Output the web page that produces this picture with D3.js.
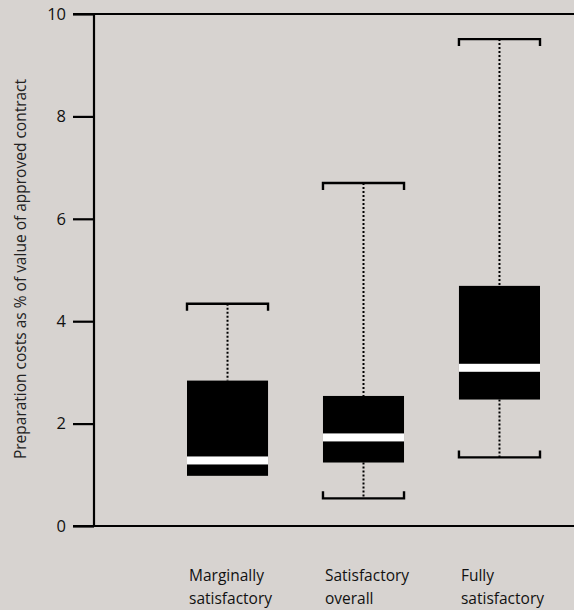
<!DOCTYPE html>
<html>
<head>
<meta charset="utf-8">
<script src="https://cdn.jsdelivr.net/npm/d3@7"></script>
<style>
  body { margin: 0; background: #d7d3d0; }
  svg { display: block; font-family: "Open Sans", sans-serif; }
</style>
</head>
<body>
<svg width="574" height="610"></svg>
<script>
// box plot values
const categories = [["Marginally", "satisfactory"], ["Satisfactory", "overall"], ["Fully", "satisfactory"]]
const mins = [null, 0.54, 1.34]
const q1s = [0.98, 1.24, 2.47]
const medians = [1.28, 1.73, 3.09]
const q3s = [2.84, 2.54, 4.69]
const maxs = [4.34, 6.7, 9.51]
const yTicks = [0, 2, 4, 6, 8, 10]

const svg = d3.select("svg")

var y = d3.scaleLinear().domain([0, 10]).range([526, 14])
var x = d3.scaleBand().domain(d3.range(categories.length)).range([187, 540]).paddingInner(0.404).paddingOuter(0)

var bw = x.bandwidth()

// frame lines top and bottom
svg.append("line").attr("x1", 73).attr("x2", 574).attr("y1", y(10)).attr("y2", y(10))
    .attr("stroke", "#000").attr("stroke-width", 2.2)
svg.append("line").attr("x1", 73).attr("x2", 574).attr("y1", y(0)).attr("y2", y(0))
    .attr("stroke", "#000").attr("stroke-width", 2.2)

var yAxis = svg.append("g")
    .attr("transform", "translate(94,0)")
    .call(d3.axisLeft(y).tickValues(yTicks).tickSize(21).tickPadding(7).tickFormat(d3.format("d")))
yAxis.select(".domain").remove()
yAxis.selectAll(".tick line").attr("stroke-width", 2.2)
yAxis.selectAll(".tick text").attr("font-size", 16.5).attr("fill", "#111").attr("font-family", "Open Sans, sans-serif")
svg.append("line").attr("x1", 94).attr("x2", 94).attr("y1", y(10) - 1).attr("y2", y(0) + 1)
    .attr("stroke", "#000").attr("stroke-width", 2.2)

svg.append("text")
    .attr("transform", `translate(26,${(y(0) + y(10)) / 2 - 1}) rotate(-90)`)
    .attr("text-anchor", "middle")
    .attr("font-size", 15.5)
    .attr("fill", "#222")
    .text("Preparation costs as % of value of approved contract")

const boxes = categories.map((c, i) => ({ i, min: mins[i], q1: q1s[i], med: medians[i], q3: q3s[i], max: maxs[i] }))

var g = svg.selectAll("g.box").data(boxes).join("g").attr("class", "box")

// whiskers
g.append("line")
    .attr("x1", d => x(d.i) + bw / 2).attr("x2", d => x(d.i) + bw / 2)
    .attr("y1", d => y(d.max)).attr("y2", d => y(d.q3))
    .attr("stroke", "#000").attr("stroke-width", 2).attr("stroke-dasharray", "2,2")
g.filter(d => d.min != null).append("line")
    .attr("x1", d => x(d.i) + bw / 2).attr("x2", d => x(d.i) + bw / 2)
    .attr("y1", d => y(d.q1)).attr("y2", d => y(d.min))
    .attr("stroke", "#000").attr("stroke-width", 2).attr("stroke-dasharray", "2,2")

// caps
g.append("path")
    .attr("d", d => `M${x(d.i)},${y(d.max) + 7}V${y(d.max)}H${x(d.i) + bw}V${y(d.max) + 7}`)
    .attr("fill", "none").attr("stroke", "#000").attr("stroke-width", 2.4)
g.filter(d => d.min != null).append("path")
    .attr("d", d => `M${x(d.i)},${y(d.min) - 7}V${y(d.min)}H${x(d.i) + bw}V${y(d.min) - 7}`)
    .attr("fill", "none").attr("stroke", "#000").attr("stroke-width", 2.4)

// boxes
g.append("rect")
    .attr("x", d => x(d.i)).attr("width", bw)
    .attr("y", d => y(d.q3)).attr("height", d => y(d.q1) - y(d.q3))
    .attr("fill", "#000")
g.append("rect")
    .attr("x", d => x(d.i)).attr("width", bw)
    .attr("y", d => y(d.med) - 4).attr("height", 8)
    .attr("fill", "#fff")

// category labels
var lab = svg.selectAll("text.cat").data(boxes).join("text")
    .attr("class", "cat")
    .attr("font-size", 15.5)
    .attr("fill", "#111")
lab.selectAll("tspan").data(d => categories[d.i].map(t => ({ t, i: d.i }))).join("tspan")
    .attr("x", d => x(d.i) + 2)
    .attr("y", (d, k) => 581 + k * 23)
    .text(d => d.t)
</script>
</body>
</html>
